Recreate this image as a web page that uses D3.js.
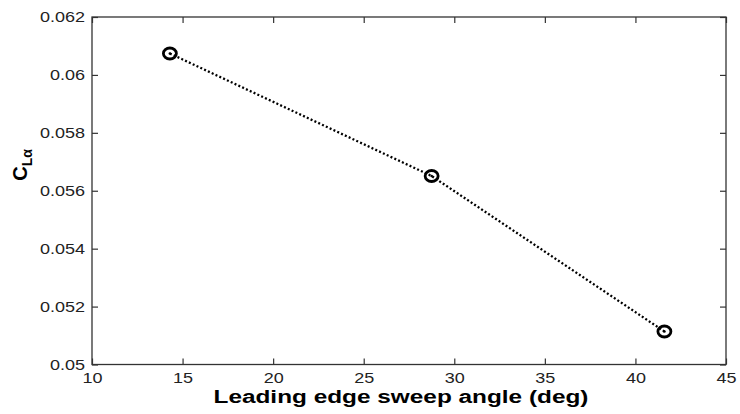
<!DOCTYPE html>
<html><head><meta charset="utf-8">
<script src="https://cdn.jsdelivr.net/npm/d3@7"></script>
<style>body{margin:0;background:#fff;} svg{display:block;}</style>
</head><body>
<script>
const sweepAngles = [14.3, 28.75, 41.6];
const clAlpha = [0.06074, 0.05651, 0.05114];
const xTicks = [10, 15, 20, 25, 30, 35, 40, 45];
const yTicks = [0.05, 0.052, 0.054, 0.056, 0.058, 0.06, 0.062];
const yTickLabels = ["0.05", "0.052", "0.054", "0.056", "0.058", "0.06", "0.062"];

const W = 740, H = 414;
const m = {left: 92, right: 740 - 726, top: 17, bottom: 414 - 364.5};
const svg = d3.select("body").append("svg").attr("width", W).attr("height", H);
const x = d3.scaleLinear().domain([10, 45]).range([m.left, W - m.right]);
const y = d3.scaleLinear().domain([0.05, 0.062]).range([H - m.bottom, m.top]);
const font = "'Liberation Sans', Arial, sans-serif";

const g = svg.append("g");
g.append("rect").attr("x", x(10)).attr("y", y(0.062)).attr("width", x(45) - x(10)).attr("height", y(0.05) - y(0.062))
  .attr("fill", "none").attr("stroke", "#333").attr("stroke-width", 1.3);

const tl = 6;
const xb = g.append("g").attr("transform", `translate(0,${y(0.05)})`)
  .call(d3.axisBottom(x).tickValues(xTicks).tickSize(-tl).tickPadding(8).tickFormat(d3.format("d")));
const xt = g.append("g").attr("transform", `translate(0,${y(0.062)})`)
  .call(d3.axisTop(x).tickValues(xTicks).tickSize(-tl).tickFormat(""));
const yl = g.append("g").attr("transform", `translate(${x(10)},0)`)
  .call(d3.axisLeft(y).tickValues(yTicks).tickSize(-tl).tickPadding(7).tickFormat((d,i) => yTickLabels[i]));
const yr = g.append("g").attr("transform", `translate(${x(45)},0)`)
  .call(d3.axisRight(y).tickValues(yTicks).tickSize(-tl).tickFormat(""));
[xb, xt, yl, yr].forEach(a => {
  a.select(".domain").remove();
  a.selectAll(".tick line").attr("stroke", "#333").attr("stroke-width", 1.2);
  a.selectAll("text").attr("font-family", font).attr("font-size", 15).attr("fill", "#222");
});
xb.selectAll("text").attr("dy", "0.68em");
[xb, yl].forEach(a => a.selectAll("text").each(function() {
  const w = this.getComputedTextLength();
  d3.select(this).attr("textLength", w * 1.2).attr("lengthAdjust", "spacingAndGlyphs");
}));

const pts = sweepAngles.map((a, i) => [a, clAlpha[i]]);
g.append("path").datum(pts)
  .attr("d", d3.line().x(d => x(d[0])).y(d => y(d[1])))
  .attr("fill", "none").attr("stroke", "#000").attr("stroke-width", 2.3).attr("stroke-dasharray", "2,2.2");
g.selectAll("ellipse.mk").data(pts).enter().append("ellipse")
  .attr("cx", d => x(d[0])).attr("cy", d => y(d[1])).attr("rx", 6.5).attr("ry", 5.5)
  .attr("fill", "none").attr("stroke", "#000").attr("stroke-width", 2.8);
g.selectAll("circle.dot").data(pts).enter().append("circle")
  .attr("cx", d => x(d[0])).attr("cy", d => y(d[1])).attr("r", 1.3).attr("fill", "#000");

svg.append("text").attr("x", 401).attr("y", 403)
  .attr("text-anchor", "middle").attr("font-family", font).attr("font-weight", "bold").attr("font-size", 18)
  .attr("textLength", 375).attr("lengthAdjust", "spacingAndGlyphs")
  .text("Leading edge sweep angle (deg)");

const ylab = svg.append("text").attr("transform", "translate(27,165) rotate(-90)")
  .attr("text-anchor", "middle").attr("font-family", font).attr("font-weight", "bold").attr("font-size", 20);
ylab.append("tspan").text("C");
ylab.append("tspan").attr("font-size", 14).attr("dy", 5).text("Lα");
</script>
</body></html>
